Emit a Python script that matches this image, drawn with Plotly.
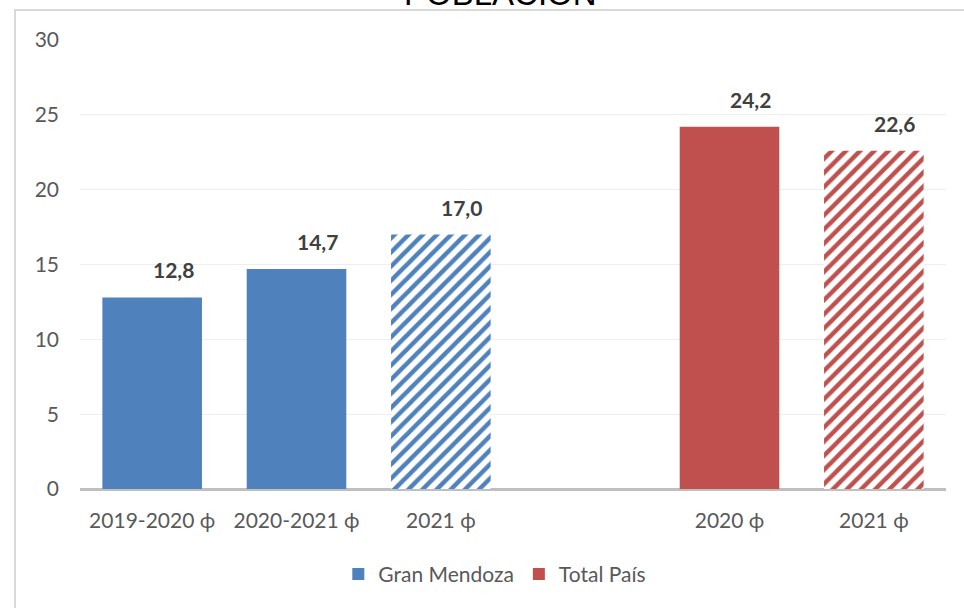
import plotly.graph_objects as go

# Data
tick_labels = ["2019-2020 ϕ", "2020-2021 ϕ", "2021 ϕ", "", "2020 ϕ", "2021 ϕ"]
tick_pos = [0, 1, 2, 3, 4, 5]

gm_solid_x = [0, 1]
gm_solid_y = [12.8, 14.7]
gm_hatch_x = [2]
gm_hatch_y = [17.0]

tp_solid_x = [4]
tp_solid_y = [24.2]
tp_hatch_x = [5]
tp_hatch_y = [22.6]

BLUE = "#4f81bd"
RED = "#c0504d"
FONT = "Lato"

fig = go.Figure()

fig.add_trace(go.Bar(x=gm_solid_x, y=gm_solid_y, name="Gran Mendoza",
                     marker=dict(color=BLUE, line=dict(width=0)), width=0.69,
                     legendgroup="gm"))
fig.add_trace(go.Bar(x=gm_hatch_x, y=gm_hatch_y, name="Gran Mendoza", showlegend=False,
                     marker=dict(color="white", line=dict(width=0),
                                 pattern=dict(shape="/", fgcolor=BLUE, bgcolor="white",
                                              size=10, solidity=0.45, fillmode="replace")),
                     width=0.69, legendgroup="gm"))
fig.add_trace(go.Bar(x=tp_solid_x, y=tp_solid_y, name="Total País",
                     marker=dict(color=RED, line=dict(width=0)), width=0.69,
                     legendgroup="tp"))
fig.add_trace(go.Bar(x=tp_hatch_x, y=tp_hatch_y, name="Total País", showlegend=False,
                     marker=dict(color="white", line=dict(width=0),
                                 pattern=dict(shape="/", fgcolor=RED, bgcolor="white",
                                              size=10, solidity=0.45, fillmode="replace")),
                     width=0.69, legendgroup="tp"))

# Data labels
all_x = gm_solid_x + gm_hatch_x + tp_solid_x + tp_hatch_x
all_y = gm_solid_y + gm_hatch_y + tp_solid_y + tp_hatch_y
for xv, yv in zip(all_x, all_y):
    fig.add_annotation(x=xv, y=yv, text=f"{yv:.1f}".replace(".", ","),
                       showarrow=False, yanchor="bottom", yshift=13, xshift=21,
                       font=dict(family=FONT, size=21, color="#404040", weight="bold"))

# Title (clipped at top)
fig.add_annotation(x=0.485, y=1.1042, xref="paper", yref="paper",
                   text="POBLACIÓN", showarrow=False, yanchor="middle", xanchor="center",
                   font=dict(family="Liberation Sans, Arial", size=33, color="black"))

# Outer border
fig.add_shape(type="rect", xref="paper", yref="paper",
              x0=-0.0751, x1=1.1, y0=-0.3, y1=1.0668,
              line=dict(color="#d9d9d9", width=2), fillcolor="rgba(0,0,0,0)", layer="below")

fig.update_layout(
    width=964, height=608,
    margin=dict(l=80, r=18, t=40, b=119),
    paper_bgcolor="white", plot_bgcolor="white",
    barmode="overlay",
    font=dict(family=FONT, size=21, color="#595959"),
    showlegend=True,
    legend=dict(orientation="h", x=0.479, xanchor="center", y=-0.19, yanchor="middle",
                font=dict(family=FONT, size=21, color="#595959"),
                itemwidth=30, tracegroupgap=0),
    xaxis=dict(range=[-0.5, 5.5], tickmode="array", tickvals=tick_pos, ticktext=tick_labels,
               showgrid=False, zeroline=False, showline=False, ticks="",
               ticklabelstandoff=17,
               tickfont=dict(family=FONT, size=21, color="#595959")),
    yaxis=dict(range=[0, 30], tickvals=[0, 5, 10, 15, 20, 25, 30],
               showgrid=True, gridcolor="#eeeeee", gridwidth=1,
               zeroline=True, zerolinecolor="#bfbfbf", zerolinewidth=3,
               showline=False, ticks="", ticklabelstandoff=20,
               tickfont=dict(family=FONT, size=21, color="#595959")),
)

fig.write_html("out.html", config={"displayModeBar": False},
               post_script="document.body.style.margin='0';document.body.style.overflow='hidden';")
